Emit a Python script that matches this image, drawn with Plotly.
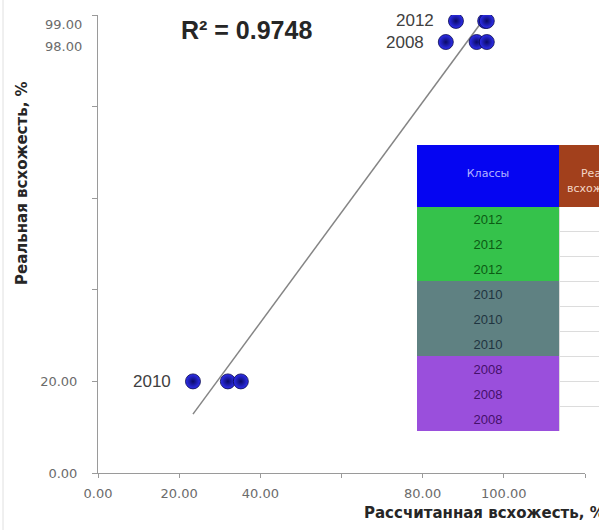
import numpy as np
import plotly.graph_objects as go

# Seed lots by harvest year, with calculated vs. real germination (%)
classes = ["2012", "2012", "2012", "2010", "2010", "2010", "2008", "2008", "2008"]
calc_germ = [88.2, 95.4, 95.8, 23.4, 32.0, 35.2, 85.7, 93.3, 95.8]
real_germ = [98.7, 98.7, 98.7, 20.0, 20.0, 20.0, 94.1, 94.1, 94.1]

x_ticks = [0, 20, 40, 60, 80, 100, 120]
x_ticktext = ["0.00", "20.00", "40.00", "", "80.00", "100.00", ""]
y_ticks = [0, 20, 40, 60, 80, 100]
y_ticktext = ["0.00", "20.00", "", "", "", ""]
side_labels = {"2012": "99.00", "2008": "98.00"}
r2_text = "R² = 0.9748"
table_header = ["\u00a0<br>Классы",
                "\u00a0<br>\u00a0\u00a0\u00a0\u00a0Реальная<br>всхожесть, %"]

class_fill = {"2012": "#35c24b", "2010": "#5f8182", "2008": "#9a4fdc"}
class_font = {"2012": "#0c5a14", "2010": "#1f3440", "2008": "#45106a"}

W, H = 599, 530
L, R, T, B = 98, 585, 15, 473   # plot box in pixels

fig = go.Figure()

# linear trend over the data span
slope, intercept = np.polyfit(calc_germ, real_germ, 1)
xs = np.array([min(calc_germ), max(calc_germ)])
fig.add_trace(go.Scatter(
    x=xs, y=slope * xs + intercept, mode="lines",
    line=dict(color="#858585", width=1.5), hoverinfo="skip", showlegend=False))

fig.add_trace(go.Scatter(
    x=calc_germ, y=real_germ, mode="markers",
    marker=dict(size=15, color="#2f2ff0",
                gradient=dict(type="radial", color="#0a0a66"),
                line=dict(color="#08084a", width=0.8)),
    showlegend=False))

# one year label per class, left of its first point
seen = set()
for c, xv, yv in zip(classes, calc_germ, real_germ):
    if c in seen:
        continue
    seen.add(c)
    fig.add_annotation(x=xv, y=yv, xref="x", yref="y", text=c, showarrow=False,
                       xanchor="right", xshift=-20,
                       font=dict(family="Liberation Sans", size=17, color="#404040"))

# class table (second column runs off the right edge)
fig.add_trace(go.Table(
    domain=dict(x=[417 / W, 1.0], y=[1 - 431 / H, 1 - 145 / H]),
    columnwidth=[142, 40],
    header=dict(
        values=table_header,
        fill_color=["#0505f2", "#a2401c"],
        line=dict(color=["#0505f2", "#a2401c"], width=1),
        font=dict(family="DejaVu Sans", size=11, color=["#b4b4ff", "#f3d6c6"]),
        align=["center", "left"], height=61),
    cells=dict(
        values=[classes, [""] * len(classes)],
        fill_color=[[class_fill[c] for c in classes], ["#ffffff"] * len(classes)],
        line=dict(color=[[class_fill[c] for c in classes], ["#dcdcdc"] * len(classes)], width=1),
        font=dict(family="Liberation Sans", size=13,
                  color=[[class_font[c] for c in classes], ["#404040"] * len(classes)]),
        align="center", height=25),
))

axis_font = dict(family="DejaVu Sans", size=13, color="#6b6b6b")
fig.update_layout(
    width=W, height=H,
    margin=dict(l=0, r=0, t=0, b=0, autoexpand=False),
    paper_bgcolor="white", plot_bgcolor="white",
    xaxis=dict(domain=[L / W, R / W], range=[0, 120], tickvals=x_ticks, ticktext=x_ticktext,
               showgrid=False, zeroline=False, showline=True, linecolor="#9a9a9a", linewidth=1,
               ticks="outside", ticklen=4, tickcolor="#9a9a9a", tickfont=axis_font,
               ticklabelstandoff=4, automargin=False),
    yaxis=dict(domain=[1 - B / H, 1 - T / H], range=[0, 100], tickvals=y_ticks, ticktext=y_ticktext,
               showgrid=False, zeroline=False, showline=True, linecolor="#9a9a9a", linewidth=1,
               ticks="outside", ticklen=5, tickcolor="#9a9a9a", tickfont=axis_font,
               ticklabelstandoff=12, automargin=False),
)

# extra value labels beside the y axis for the upper classes
for cls, txt in side_labels.items():
    yv = real_germ[classes.index(cls)]
    fig.add_annotation(x=0, xref="x domain", y=yv, yref="y", text=txt, showarrow=False,
                       xanchor="right", yshift=-4, xshift=-14, font=axis_font)

fig.add_annotation(x=246 / W, y=1 - 30 / H, xref="paper", yref="paper", text=r2_text,
                   xanchor="center", yanchor="middle", showarrow=False,
                   font=dict(family="Liberation Sans", size=25, color="#262626", weight="bold"))

title_font = dict(family="DejaVu Sans", size=15, color="#262626", weight="bold")
fig.add_annotation(x=22 / W, y=1 - 183 / H, xref="paper", yref="paper",
                   xanchor="center", yanchor="middle",
                   text="Реальная всхожесть, %", textangle=-90, showarrow=False, font=title_font)
fig.add_annotation(x=362 / W, y=1 - 513 / H, xref="paper", yref="paper",
                   xanchor="left", yanchor="middle",
                   text="Рассчитанная всхожесть, %", showarrow=False, font=title_font)

# faint outer frame edge on the left
fig.add_shape(type="line", xref="paper", yref="paper", x0=3 / W, x1=3 / W, y0=0, y1=1,
              line=dict(color="#e0e0e0", width=1))

fig.write_html("out.html")
